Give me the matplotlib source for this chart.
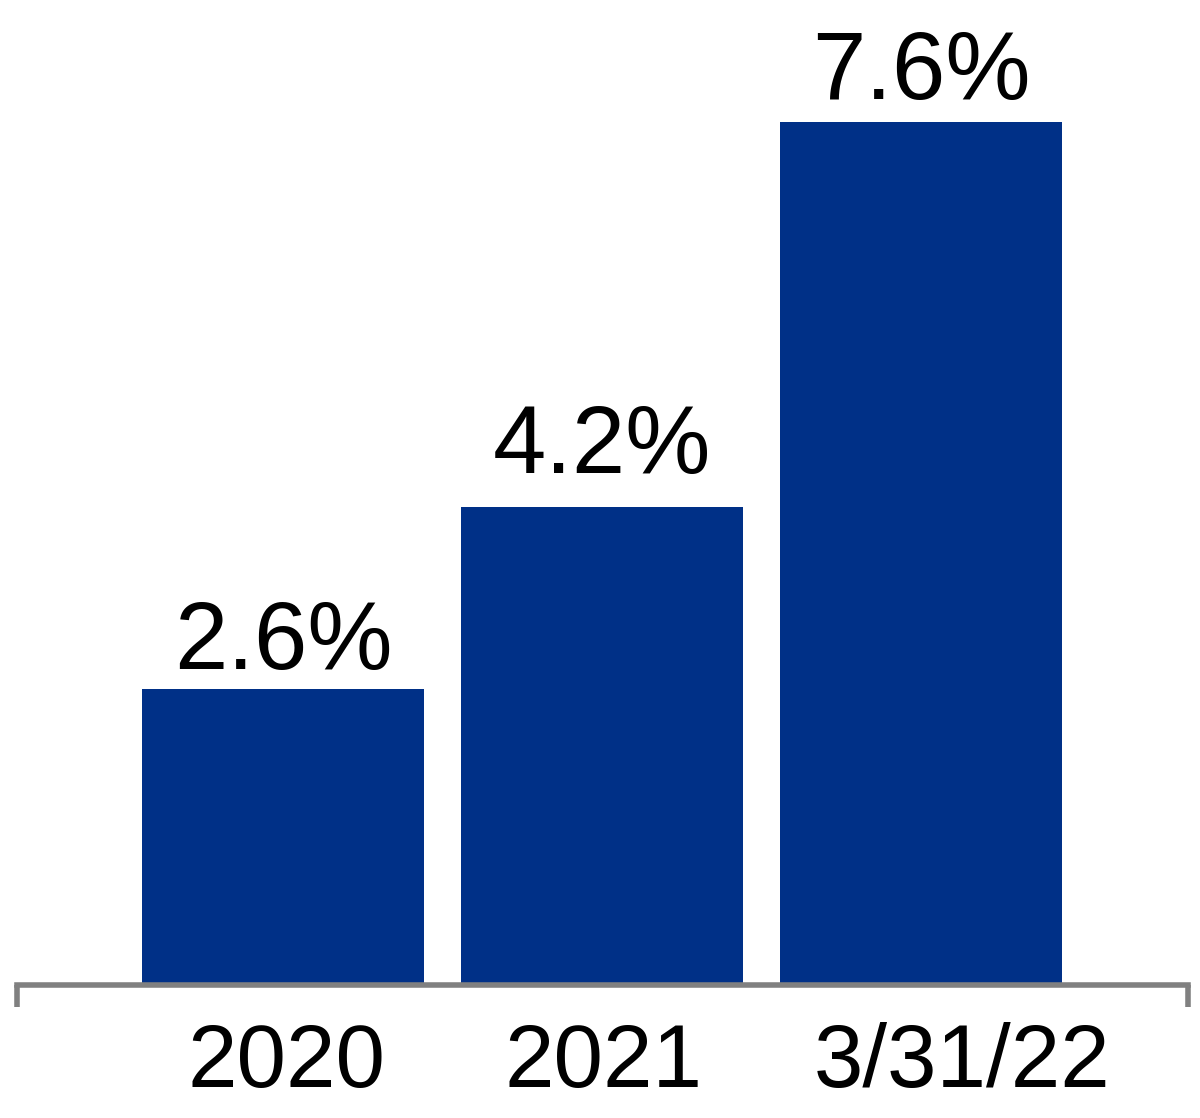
import numpy as np
import matplotlib
matplotlib.use("Agg")
import matplotlib.pyplot as plt

# ---------------- DATA ----------------
categories = ["2020", "2021", "3/31/22"]
values = [2.6, 4.2, 7.6]
value_labels = ["2.6%", "4.2%", "7.6%"]

# ---------------- STYLE ----------------
bar_color = "#003087"
axis_color = "#808080"
plt.rcParams['font.family'] = ['Liberation Sans', 'DejaVu Sans']

fig = plt.figure(figsize=(12, 11.18), dpi=100)
ax = fig.add_axes([0, 0, 1, 1])

x = np.arange(len(categories))
bars = ax.bar(x, values, width=0.884, color=bar_color, zorder=1)

# value labels above bars (pads in points)
pads = [14, 25, 17]
for b, lab, pad in zip(bars, value_labels, pads):
    ax.annotate(lab, (b.get_x() + b.get_width() / 2, b.get_height()),
                xytext=(0, pad), textcoords="offset points",
                ha="center", va="baseline", fontsize=69, color="black")

# category labels (slightly offset to the right as in the original)
label_shift = [0.012, 1.006, 2.13]
for xs, cat in zip(label_shift, categories):
    ax.text(xs, -0.92, cat, ha="center", va="baseline", fontsize=64, color="black")

ax.set_xlim(-0.887, 2.875)
ax.set_ylim(-1.19, 8.68)

for s in ["top", "right", "left"]:
    ax.spines[s].set_visible(False)
ax.spines["bottom"].set_position(("data", -0.02))
ax.spines["bottom"].set_bounds(-0.834, 2.837)
ax.spines["bottom"].set_color(axis_color)
ax.spines["bottom"].set_linewidth(4)
ax.spines["bottom"].set_zorder(3)

ax.set_xticks([-0.834, 2.837])
ax.set_xticklabels([])
ax.tick_params(axis="x", direction="out", length=16, width=4, color=axis_color)
ax.set_yticks([])
ax.patch.set_alpha(0)

fig.savefig("out.png", dpi=100)
